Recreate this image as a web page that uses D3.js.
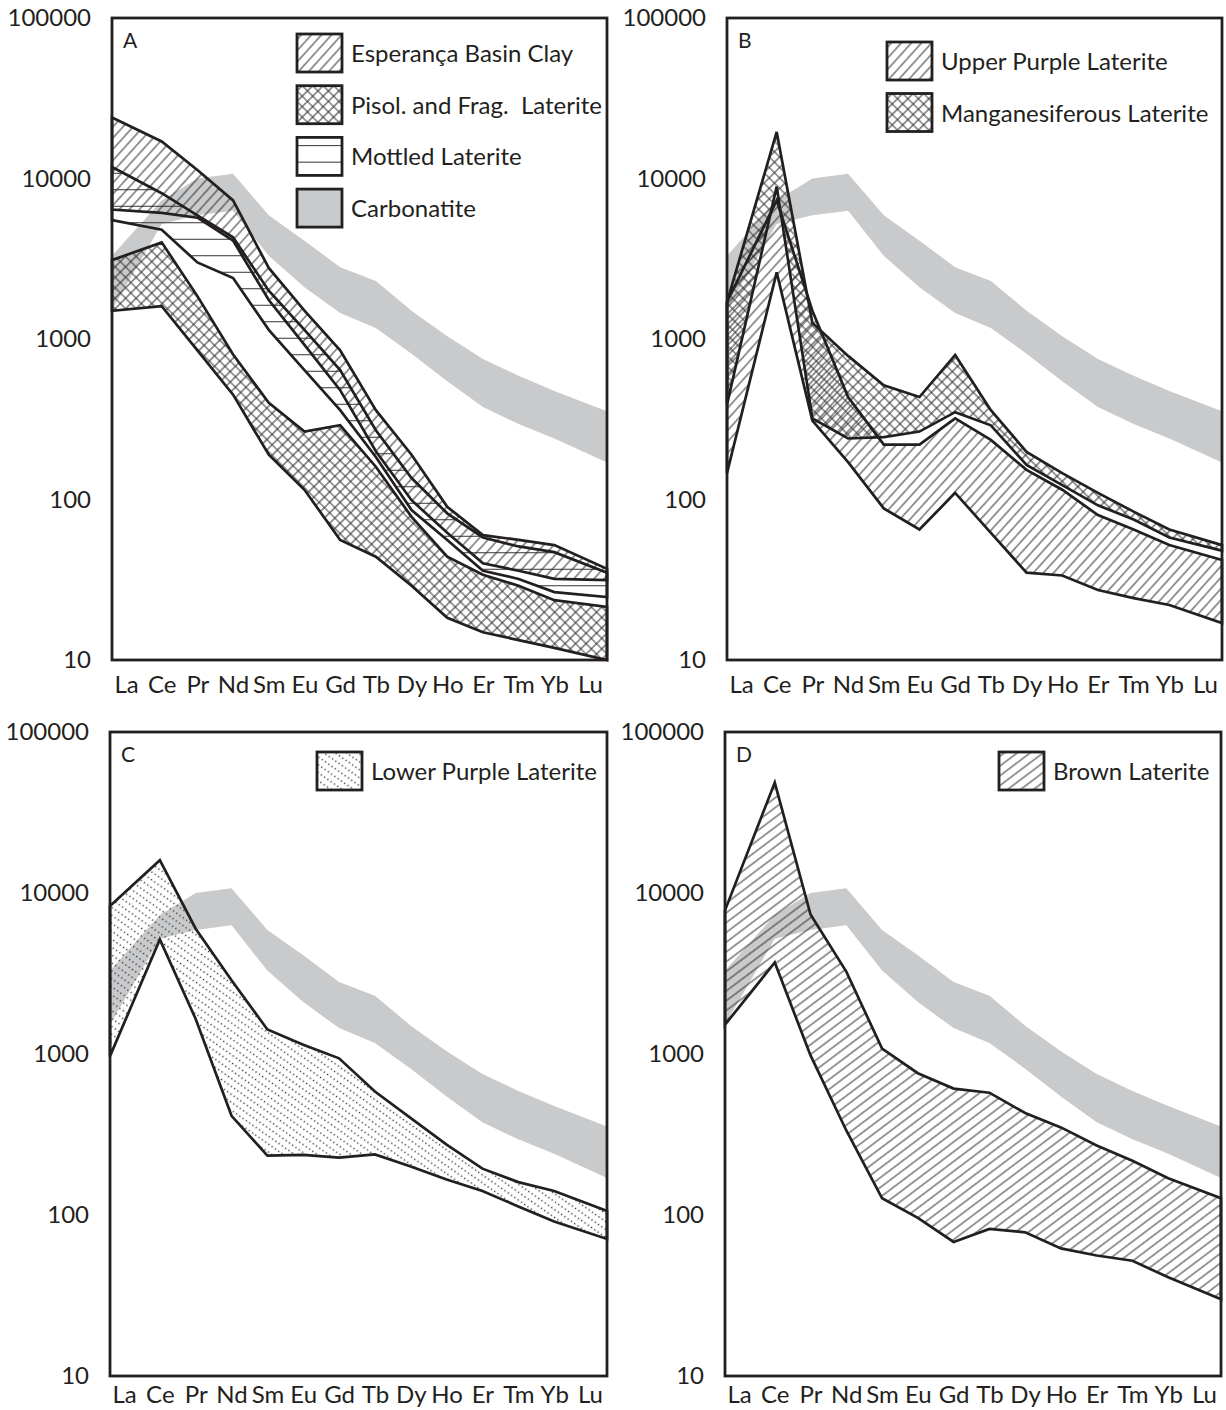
<!DOCTYPE html>
<html>
<head>
<meta charset="utf-8">
<script src="https://cdn.jsdelivr.net/npm/d3@7"></script>
<style>
  body { margin: 0; background: #fff; }
  text { font-family: Lato, "Open Sans", sans-serif; fill: #231f20; }
</style>
</head>
<body>
<script>
//chondrite-normalised REE patterns, four panels

var elements = ["La", "Ce", "Pr", "Nd", "Sm", "Eu", "Gd", "Tb", "Dy", "Ho", "Er", "Tm", "Yb", "Lu"];
var yTickValues = [10, 100, 1000, 10000, 100000];

//grey carbonatite band (same in every panel)
var carbonatiteUpper = [3300, 7300, 10000, 10700, 5900, 4100, 2800, 2300, 1500, 1040, 750, 590, 475, 355];
var carbonatiteLower = [1520, 5200, 5900, 6300, 3300, 2100, 1450, 1170, 810, 545, 377, 295, 240, 170];

//panel A
var clayTop = [24000, 17000, 11300, 7300, 2770, 1500, 850, 360, 190, 90, 60, 56, 52, 37];
var clayBottom = [6400, 6100, 5700, 4100, 1750, 920, 480, 200, 99, 62, 40, 36, 32, 31.5];
var mottledTop = [11800, 8100, 5900, 4300, 2000, 1140, 640, 270, 136, 82, 58, 51, 47, 35];
var mottledBottom = [5500, 4800, 3000, 2400, 1140, 640, 360, 184, 86, 56, 36, 32, 26.5, 24.7];
var pisolTop = [3100, 4000, 1850, 800, 400, 265, 290, 160, 78, 44, 34, 29, 23.6, 21.4];
var pisolBottom = [1500, 1600, 850, 450, 190, 115, 56, 44, 29, 18.3, 14.9, 13.3, 11.9, 10];

//panel B
var manganTop = [1700, 19500, 1260, 785, 515, 435, 795, 360, 198, 146, 110, 84, 65, 52];
var manganBottom = [390, 8900, 320, 240, 245, 265, 350, 290, 164, 123, 92, 75, 58, 48];
var upperPurpleTop = [1700, 7300, 1500, 435, 220, 220, 320, 235, 153, 115, 80, 65, 52, 42];
var upperPurpleBottom = [146, 2600, 310, 171, 88, 65, 110, 62, 35, 33.6, 27.3, 24.3, 22, 17];

//panel C
var lowerPurpleTop = [8300, 16000, 6000, 2870, 1420, 1140, 940, 585, 400, 274, 194, 160, 141, 106];
var lowerPurpleBottom = [970, 5150, 1650, 413, 234, 236, 227, 238, 200, 166, 141, 113, 91, 71];

//panel D
var brownTop = [7800, 48500, 7350, 3250, 1080, 760, 610, 575, 430, 350, 270, 217, 169, 127];
var brownBottom = [1520, 3700, 980, 335, 127, 96, 68, 82, 78, 62, 56, 52, 41, 30];

var ink = "#231f20",
    grey = "#c9cacc",
    fontSize = 24;

var svg = d3.select("body")
    .append("svg")
    .attr("width", 1226)
    .attr("height", 1410);

var defs = svg.append("defs");

//single-line hatch, rotated
function linePattern(id, spacing, angle, dash) {
    var w = dash ? 8 : spacing;
    var p = defs.append("pattern")
        .attr("id", id)
        .attr("patternUnits", "userSpaceOnUse")
        .attr("width", w)
        .attr("height", spacing)
        .attr("patternTransform", "rotate(" + angle + ")");
    var l = p.append("line")
        .attr("x1", 0).attr("x2", w)
        .attr("y1", spacing / 2).attr("y2", spacing / 2)
        .attr("stroke", "#2e2e2e")
        .attr("stroke-width", dash ? 1.4 : 1);
    if (dash) l.attr("stroke-dasharray", dash);
}

function crossPattern(id, size) {
    var p = defs.append("pattern")
        .attr("id", id)
        .attr("patternUnits", "userSpaceOnUse")
        .attr("width", size)
        .attr("height", size)
        .attr("patternTransform", "rotate(45)");
    p.append("path")
        .attr("d", "M0," + size / 2 + "H" + size + "M" + size / 2 + ",0V" + size)
        .attr("stroke", "#2e2e2e")
        .attr("stroke-width", 1);
}

linePattern("clay", 7.5, -48);
crossPattern("pisol", 7.4);
linePattern("mottled", 16.5, 0);
linePattern("upper", 7.5, -48);
crossPattern("mangan", 7.4);
linePattern("lower", 6.5, 35, "1.3 2.7");
linePattern("brown", 7.8, -37);

var panels = [
    {letter: "A", x0: 112, x1: 607, top: 18, bottom: 660, labelPad: 16,
        bands: [
            {hi: clayTop, lo: clayBottom, fill: "url(#clay)"},
            {hi: mottledTop, lo: mottledBottom, fill: "url(#mottled)"},
            {hi: pisolTop, lo: pisolBottom, fill: "url(#pisol)"}
        ],
        legend: [
            {name: "Esperança Basin Clay", fill: "url(#clay)"},
            {name: "Pisol. and Frag.\u00a0 Laterite", fill: "url(#pisol)"},
            {name: "Mottled Laterite", fill: "url(#mottled)"},
            {name: "Carbonatite", fill: grey}
        ],
        legendX: 297, legendY: 34, legendStep: 51.7},
    {letter: "B", x0: 727, x1: 1222, top: 18, bottom: 660, labelPad: 16,
        bands: [
            {hi: upperPurpleTop, lo: upperPurpleBottom, fill: "url(#upper)"},
            {hi: manganTop, lo: manganBottom, fill: "url(#mangan)"}
        ],
        legend: [
            {name: "Upper Purple Laterite", fill: "url(#upper)"},
            {name: "Manganesiferous Laterite", fill: "url(#mangan)"}
        ],
        legendX: 887, legendY: 42, legendStep: 51.5},
    {letter: "C", x0: 110, x1: 607, top: 732, bottom: 1376, labelPad: 10,
        bands: [
            {hi: lowerPurpleTop, lo: lowerPurpleBottom, fill: "url(#lower)"}
        ],
        legend: [
            {name: "Lower Purple Laterite", fill: "url(#lower)"}
        ],
        legendX: 317, legendY: 752, legendStep: 0},
    {letter: "D", x0: 725, x1: 1221, top: 732, bottom: 1376, labelPad: 10,
        bands: [
            {hi: brownTop, lo: brownBottom, fill: "url(#brown)"}
        ],
        legend: [
            {name: "Brown Laterite", fill: "url(#brown)"}
        ],
        legendX: 999, legendY: 752, legendStep: 0}
];

panels.forEach(drawPanel);

function drawPanel(p) {
    var g = svg.append("g").attr("class", "panel " + p.letter);

    var y = d3.scaleLog()
        .domain([10, 100000])
        .range([p.bottom, p.top]);

    //label positions; first and last samples sit on the frame
    var xLab = d3.scalePoint()
        .domain(elements)
        .range([p.x0 + 14, p.x1 - 17]);
    var px = function(i) {
        if (i === 0) return p.x0;
        if (i === elements.length - 1) return p.x1;
        return xLab(elements[i]);
    };

    var area = d3.area()
        .x(function(d, i) { return px(i); })
        .y0(function(d) { return y(d.lo); })
        .y1(function(d) { return y(d.hi); });

    function rows(hi, lo) {
        return elements.map(function(e, i) { return {hi: hi[i], lo: lo[i]}; });
    }

    //carbonatite
    g.append("path")
        .datum(rows(carbonatiteUpper, carbonatiteLower))
        .attr("d", area)
        .attr("fill", grey);

    //hatched fields
    g.selectAll(".band")
        .data(p.bands)
        .enter()
        .append("path")
        .attr("class", "band")
        .attr("d", function(b) { return area(rows(b.hi, b.lo)); })
        .attr("fill", function(b) { return b.fill; });

    g.selectAll(".outline")
        .data(p.bands)
        .enter()
        .append("path")
        .attr("class", "outline")
        .attr("d", function(b) { return area(rows(b.hi, b.lo)); })
        .attr("fill", "none")
        .attr("stroke", ink)
        .attr("stroke-width", 2.7)
        .attr("stroke-linejoin", "miter");

    //frame
    g.append("rect")
        .attr("x", p.x0)
        .attr("y", p.top)
        .attr("width", p.x1 - p.x0)
        .attr("height", p.bottom - p.top)
        .attr("fill", "none")
        .attr("stroke", ink)
        .attr("stroke-width", 2.8);

    //y axis labels (no tick marks)
    var yAxis = d3.axisLeft(y)
        .tickValues(yTickValues)
        .tickFormat(d3.format("d"))
        .tickSize(0)
        .tickPadding(21);
    var ya = g.append("g")
        .attr("transform", "translate(" + p.x0 + ",0)")
        .call(yAxis);
    ya.select(".domain").remove();
    ya.selectAll("text")
        .attr("font-size", fontSize)
        .attr("font-family", "Lato, sans-serif")
        .attr("fill", ink);

    //x axis labels
    var xAxis = d3.axisBottom(xLab)
        .tickSize(0)
        .tickPadding(p.labelPad);
    var xa = g.append("g")
        .attr("transform", "translate(0," + p.bottom + ")")
        .call(xAxis);
    xa.select(".domain").remove();
    xa.selectAll("text")
        .attr("font-size", fontSize)
        .attr("font-family", "Lato, sans-serif")
        .attr("fill", ink);

    //panel letter
    g.append("text")
        .attr("x", p.x0 + 11)
        .attr("y", p.top + 30)
        .attr("font-size", 21)
        .text(p.letter);

    //legend
    var lg = g.selectAll(".legend")
        .data(p.legend)
        .enter()
        .append("g")
        .attr("class", "legend")
        .attr("transform", function(d, i) {
            return "translate(" + p.legendX + "," + (p.legendY + i * p.legendStep) + ")";
        });
    lg.append("rect")
        .attr("width", 45)
        .attr("height", 38)
        .attr("fill", function(d) { return d.fill; })
        .attr("stroke", ink)
        .attr("stroke-width", 2.8);
    lg.append("text")
        .attr("x", 54)
        .attr("y", 28)
        .attr("font-size", fontSize)
        .text(function(d) { return d.name; });
}
</script>
</body>
</html>
